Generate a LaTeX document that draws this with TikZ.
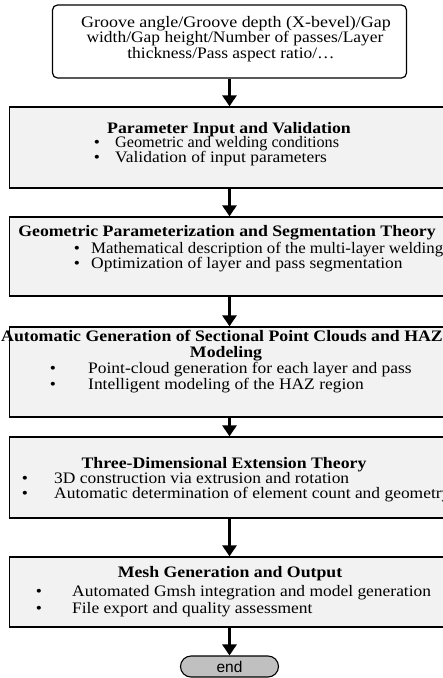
\documentclass[tikz,border=0pt]{standalone}
\usepackage{fontspec}
\usepackage{graphicx}
\setmainfont[FakeStretch=1.09,BoldFeatures={FakeStretch=1.11}]{Liberation Serif}
\newfontfamily\arialfont{Liberation Sans}
\usetikzlibrary{arrows.meta,shapes.misc}
\tikzset{
  procbox/.style={draw=black,line width=1.3pt,fill=boxgray,rectangle,inner sep=0pt},
  inbox/.style={draw=black,line width=1.2pt,fill=white,rounded corners=5pt,inner sep=0pt},
  endbox/.style={draw=black,line width=1.1pt,fill=endgray,rounded rectangle,inner sep=0pt,minimum width=98pt,minimum height=21pt,font=\arialfont\fontsize{15.5}{17}\selectfont},
  flow/.style={line width=3pt,-{Triangle[width=14pt,length=11pt]}},
  txt/.style={inner sep=0pt,font=\fontsize{16}{17}\selectfont},
  ttl/.style={inner sep=0pt,font=\bfseries\fontsize{16}{17}\selectfont,anchor=base},
  bl/.style={txt,anchor=base west},
  bul/.style={txt,anchor=base}
}
\definecolor{boxgray}{HTML}{F2F2F2}
\definecolor{endgray}{HTML}{C0C0C0}
\begin{document}
\begin{tikzpicture}[x=1pt,y=-1pt]
\useasboundingbox (0,0) rectangle (443,678);
\begin{scope}
\clip (0,0) rectangle (443,678);
% boxes
\node[inbox,minimum width=354pt,minimum height=73pt] (in) at (229.5,41.5) {};
\node[procbox,minimum width=440pt,minimum height=81pt] (b1) at (229.5,147.5) {};
\node[procbox,minimum width=440pt,minimum height=79pt] (b2) at (229.5,256.5) {};
\node[procbox,minimum width=440pt,minimum height=90pt] (b3) at (229.5,372) {};
\node[procbox,minimum width=440pt,minimum height=81pt] (b4) at (229.5,477.5) {};
\node[procbox,minimum width=440pt,minimum height=70pt] (b5) at (229.5,592) {};
\node[endbox] (e) at (229.5,666.5) {end};
% arrows
\draw[flow] (in.south) -- (b1.north);
\draw[flow] (b1.south) -- (b2.north);
\draw[flow] (b2.south) -- (b3.north);
\draw[flow] (b3.south) -- (b4.north);
\draw[flow] (b4.south) -- (b5.north);
\draw[flow] (b5.south) -- (e.north);
% input text
\node[txt,anchor=base] (i1) at (236,27) {\scalebox{1.03}[1]{Groove angle/Groove depth (X-bevel)/Gap}};
\node[txt,anchor=base] (i2) at (235,42.5) {width/Gap height/Number of passes/Layer};
\node[txt,anchor=base] (i3) at (231,58) {thickness/Pass aspect ratio/…};
% box 1
\node[ttl] (t1) at (229,133) {Parameter Input and Validation};
\node[bul] (p11) at (97,147.5) {•};
\node[bl] (l11) at (115,147.5) {\scalebox{0.93}[1]{Geometric and welding conditions}};
\node[bul] (p12) at (97,162.5) {•};
\node[bl] (l12) at (115,162.5) {Validation of input parameters};
% box 2
\node[ttl] (t2) at (227,236.5) {Geometric Parameterization and Segmentation Theory};
\node[bul] (p21) at (77,253) {•};
\node[bl] (l21) at (91,253) {\scalebox{0.965}[1]{Mathematical description of the multi-layer welding}};
\node[bul] (p22) at (77,268) {•};
\node[bl] (l22) at (91,268) {Optimization of layer and pass segmentation};
% box 3
\node[ttl] (t3) at (222,341) {Automatic Generation of Sectional Point Clouds and HAZ};
\node[ttl] (t3b) at (226,357) {Modeling};
\node[bul] (p31) at (53,373) {•};
\node[bl] (l31) at (88,373) {Point-cloud generation for each layer and pass};
\node[bul] (p32) at (53,389.5) {•};
\node[bl] (l32) at (88,389.5) {Intelligent modeling of the HAZ region};
% box 4
\node[ttl] (t4) at (224,468) {Three-Dimensional Extension Theory};
\node[bul] (p41) at (25,483) {•};
\node[bl] (l41) at (54,483) {3D construction via extrusion and rotation};
\node[bul] (p42) at (25,498.5) {•};
\node[bl] (l42) at (54,498.5) {Automatic determination of element count and geometry};
% box 5
\node[ttl] (t5) at (230,577) {Mesh Generation and Output};
\node[bul] (p51) at (39,596) {•};
\node[bl] (l51) at (72,596) {Automated Gmsh integration and model generation};
\node[bul] (p52) at (39,613) {•};
\node[bl] (l52) at (72,613) {File export and quality assessment};
\end{scope}
\end{tikzpicture}
\end{document}
